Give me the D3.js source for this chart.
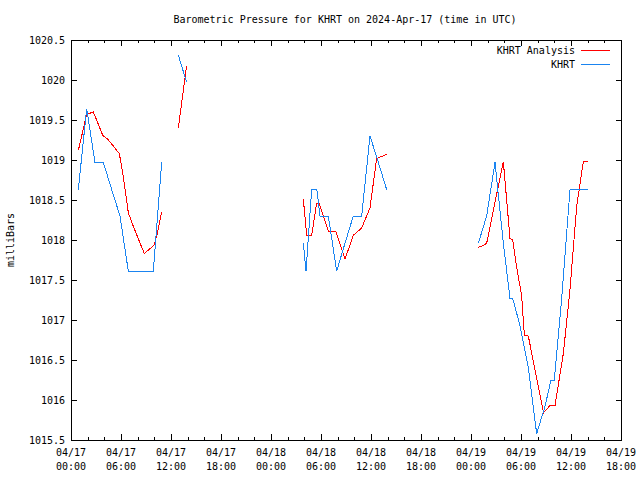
<!DOCTYPE html>
<html>
<head>
<meta charset="utf-8">
<script src="https://cdn.jsdelivr.net/npm/d3@7"></script>
<style>
  html, body { margin: 0; padding: 0; background: #fff; }
  svg { display: block; }
  text { font-family: "DejaVu Sans Mono", "Liberation Mono", monospace; font-size: 10px; fill: #000; }
</style>
</head>
<body>
<div id="chart"></div>
<script>
// Hours since 2024-04-17 00:00 UTC; null marks a gap in the record
const analysisHours = [0.88,1.88,2.68,3.08,3.8,4.4,4.88,5.8,6.28,6.88,7.48,8.8,9.68,10.0,10.4,10.88,
  null, 12.88,13.88,
  null, 27.88,28.28,28.88,29.48,29.78,30.88,31.78,32.88,33.88,34.88,35.88,36.68,37.88,
  null, 48.88,49.5,49.88,51.88,52.68,53.0,53.5,54.08,54.4,54.88,56.7,57.48,58.08,59.08,59.88,60.68,61.48,62.08];
const analysisMb = [1019.12,1019.57,1019.6,1019.5,1019.31,1019.26,1019.2,1019.08,1018.79,1018.34,1018.17,1017.83,1017.91,1017.94,1018.1,1018.35,
  null, 1019.4,1020.18,
  null, 1018.51,1018.06,1018.06,1018.46,1018.46,1018.11,1018.11,1017.76,1018.06,1018.15,1018.4,1019.02,1019.07,
  null, 1017.91,1017.93,1017.96,1018.98,1018.02,1018.0,1017.65,1017.3,1016.81,1016.8,1015.84,1015.93,1015.93,1016.58,1017.38,1018.42,1018.98,1018.98];

const obsHours = [0.88,1.88,2.88,3.88,4.88,5.88,6.88,7.88,8.88,9.88,10.88,
  null, 12.88,13.88,
  null, 27.88,28.2,28.88,29.5,29.88,30.88,31.88,32.88,33.88,34.88,35.88,36.88,37.88,
  null, 48.88,49.88,50.88,51.88,52.68,53.0,53.88,54.88,55.88,56.88,57.6,58.0,58.88,59.88,60.88,62.08];
const obsMb = [1018.63,1019.64,1018.97,1018.97,1018.63,1018.30,1017.61,1017.61,1017.61,1017.61,1018.97,
  null, 1020.31,1019.97,
  null, 1017.96,1017.61,1018.63,1018.63,1018.30,1018.30,1017.61,1017.96,1018.30,1018.30,1019.30,1018.97,1018.63,
  null, 1017.96,1018.30,1018.97,1017.96,1017.27,1017.27,1016.93,1016.4,1015.58,1015.92,1016.25,1016.25,1017.27,1018.63,1018.63,1018.63];

const seriesNames = ["KHRT Analysis", "KHRT"];
const seriesColors = ["#ff0000", "#1a84f0"];
const yTicks = [1015.5,1016,1016.5,1017,1017.5,1018,1018.5,1019,1019.5,1020,1020.5];
const yTickLabels = ["1015.5","1016","1016.5","1017","1017.5","1018","1018.5","1019","1019.5","1020","1020.5"];
const startTime = Date.UTC(2024, 3, 17, 0, 0);
const endTime = Date.UTC(2024, 3, 19, 18, 0);
const titleText = "Barometric Pressure for KHRT on 2024-Apr-17 (time in UTC)";
const yLabelText = "milliBars";

const W = 640, H = 480;
const m = { left: 71, right: 19, top: 40, bottom: 40 };
const svg = d3.select("#chart").append("svg").attr("width", W).attr("height", H);

const x = d3.scaleUtc().domain([new Date(startTime), new Date(endTime)]).range([m.left, W - m.right]);
const y = d3.scaleLinear().domain([1015.5, 1020.5]).range([H - m.bottom, m.top]);

const toDate = h => new Date(startTime + h * 3600 * 1000);
const mkData = (hs, vs) => hs.map((h, i) => ({ t: h === null ? null : toDate(h), v: vs[i] }));
const series = [mkData(analysisHours, analysisMb), mkData(obsHours, obsMb)];

// Title
svg.append("text").attr("x", 345).attr("y", 23).attr("text-anchor", "middle").text(titleText);
// Y label
svg.append("text").attr("transform", "translate(14,240) rotate(-90)").attr("text-anchor", "middle").text(yLabelText);

const plotL = m.left, plotR = W - m.right, plotT = m.top, plotB = H - m.bottom;

// Ticks (inward)
const majorX = d3.utcHour.every(6).range(new Date(startTime), new Date(endTime + 1));
const minorX = d3.utcHour.every(2).range(new Date(startTime), new Date(endTime + 1));
const tg = svg.append("g").attr("stroke", "#000").attr("stroke-width", 1).attr("shape-rendering", "crispEdges");
minorX.forEach(d => {
  const isMajor = d.getUTCHours() % 6 === 0;
  const len = isMajor ? 6 : 3;
  const xx = Math.round(x(d)) + 0.5;
  tg.append("line").attr("x1", xx).attr("x2", xx).attr("y1", plotB).attr("y2", plotB - len);
  tg.append("line").attr("x1", xx).attr("x2", xx).attr("y1", plotT).attr("y2", plotT + len);
});
yTicks.forEach(v => {
  const yy = Math.round(y(v)) + 0.5;
  tg.append("line").attr("x1", plotL).attr("x2", plotL + 6).attr("y1", yy).attr("y2", yy);
  tg.append("line").attr("x1", plotR + 1).attr("x2", plotR - 5).attr("y1", yy).attr("y2", yy);
});

// X tick labels
const fDay = d3.utcFormat("%m/%d"), fTime = d3.utcFormat("%H:%M");
majorX.forEach(d => {
  const g = svg.append("text").attr("text-anchor", "middle");
  g.append("tspan").attr("x", x(d)).attr("y", 456).text(fDay(d));
  g.append("tspan").attr("x", x(d)).attr("y", 470).text(fTime(d));
});
// Y tick labels
yTicks.forEach((v, i) => {
  svg.append("text").attr("x", 65).attr("y", y(v)).attr("dy", "0.35em").attr("text-anchor", "end").text(yTickLabels[i]);
});

// Lines
const line = d3.line().defined(d => d.t !== null && d.v !== null).x(d => x(d.t)).y(d => y(d.v));
series.forEach((s, i) => {
  svg.append("path").datum(s).attr("fill", "none").attr("stroke", seriesColors[i])
    .attr("stroke-width", 1).attr("shape-rendering", "crispEdges").attr("d", line);
});

// Border
svg.append("rect").attr("x", plotL + 0.5).attr("y", plotT + 0.5).attr("width", plotR - plotL).attr("height", plotB - plotT)
  .attr("fill", "none").attr("stroke", "#000").attr("stroke-width", 1).attr("shape-rendering", "crispEdges");

// Legend
seriesNames.forEach((name, i) => {
  const ly = 50 + i * 14;
  svg.append("text").attr("x", 575).attr("y", ly).attr("dy", "0.35em").attr("text-anchor", "end").text(name);
  svg.append("line").attr("x1", 581).attr("x2", 610).attr("y1", ly + 0.5).attr("y2", ly + 0.5)
    .attr("stroke", seriesColors[i]).attr("stroke-width", 1).attr("shape-rendering", "crispEdges");
});
</script>
</body>
</html>
